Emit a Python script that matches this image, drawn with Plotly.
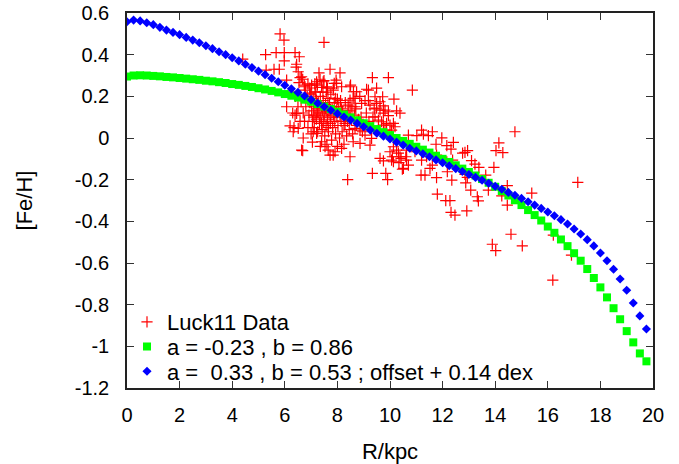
import plotly.graph_objects as go

# ---------------- data ----------------
luck_r = [
    4.40, 5.27, 5.67, 5.82, 5.97, 5.98, 5.98, 6.39, 6.55, 7.49,
    5.29, 5.59, 5.79, 6.43, 6.51, 6.45, 6.58, 6.68, 6.07, 7.72,
    8.10, 7.30, 7.34, 7.49, 7.24, 7.40, 7.62, 7.84, 8.50, 8.61,
    9.18, 9.49, 9.33, 9.94, 7.95, 6.64, 7.02, 7.46, 6.77, 7.15,
    7.59, 7.97, 8.16, 6.96, 6.54, 6.74, 7.21, 7.88, 8.48, 8.73,
    9.11, 9.43, 8.67, 8.92, 9.24, 9.49, 8.41, 8.29, 8.54, 8.67,
    8.86, 9.05, 9.30, 9.24, 8.86, 8.60, 8.48, 8.16, 7.91, 7.65,
    7.53, 7.40, 7.21, 7.08, 6.64, 6.51, 6.45, 6.07, 6.39, 6.20,
    6.32, 6.68, 9.33, 9.84, 9.91, 8.39, 10.15, 9.72, 9.75, 9.18,
    8.67, 8.48, 8.00, 10.85, 9.62, 9.49, 9.62, 9.81, 9.94, 9.75,
    9.94, 10.25, 10.38, 9.43, 9.56, 9.68, 9.75, 9.87, 10.00, 10.13,
    10.19, 10.06, 9.81, 10.70, 11.02, 11.20, 11.27, 11.46, 11.61, 11.97,
    11.75, 12.16, 12.41, 12.32, 12.85, 12.95, 10.13, 10.25, 10.00, 10.95,
    14.14, 14.03, 14.29, 11.39, 11.61, 11.52, 12.18, 13.10, 13.23, 13.38,
    13.95, 13.64, 12.94, 12.88, 11.77, 12.35, 13.07, 13.74, 14.46, 14.25,
    14.46, 15.39, 11.80, 12.12, 12.28, 13.32, 13.36, 12.32, 12.47, 12.92,
    14.60, 13.89, 14.02, 15.03, 16.19, 17.14, 16.21, 16.90, 14.75, 12.76,
    11.20, 10.63, 10.38, 10.63, 10.51, 10.06, 10.13, 11.18, 11.33, 11.77,
    12.16, 12.38, 7.72, 7.84, 9.62, 9.75, 10.09, 10.32, 10.42, 10.34,
    10.60, 10.70, 10.47, 12.85,
    6.62, 6.70, 6.75, 6.80, 6.85, 6.88, 6.92, 6.95, 7.00, 7.02,
    7.05, 7.08, 7.10, 7.12, 7.15, 7.18, 7.20, 7.22, 7.25, 7.27,
    7.30, 7.32, 7.35, 7.37, 7.40, 7.42, 7.44, 7.46, 7.48, 7.50,
    7.52, 7.55, 7.57, 7.60, 7.62, 7.64, 7.66, 7.68, 7.70, 7.73,
    7.75, 7.78, 7.80, 7.82, 7.85, 7.88, 7.90, 7.93, 7.95, 7.98,
    8.02, 8.05, 8.08, 8.10, 8.14, 8.18, 8.20, 8.25, 8.30, 8.35,
    8.40, 8.45, 8.52, 8.58, 8.65, 8.72, 8.80, 6.95, 7.14, 7.58,
    7.75, 7.92, 8.12, 8.30, 8.55, 7.05, 7.35, 7.60, 8.00, 8.25,
    6.70, 6.58, 6.50, 6.40, 6.30, 6.25, 6.35, 7.20, 7.45, 7.85,
    7.65, 7.40, 7.10, 7.55, 7.70, 7.25, 7.98, 8.15, 8.38, 8.48,
    8.70, 8.90, 9.00, 9.10, 9.20, 9.05, 8.95, 9.35, 9.28, 9.40,
    8.85, 8.60, 7.00, 6.88, 6.78,
]
luck_feh = [
    0.379, 0.400, 0.410, 0.500, 0.470, 0.410, 0.370, 0.410, 0.390, 0.459,
    0.326, 0.330, 0.330, 0.340, 0.318, 0.354, 0.290, 0.282, 0.278, 0.330,
    0.313, 0.313, 0.282, 0.275, 0.254, 0.243, 0.239, 0.230, 0.254, 0.222,
    0.230, 0.239, 0.290, 0.290, 0.278, 0.294, 0.254, 0.270, 0.246, 0.222,
    0.246, 0.262, 0.246, 0.215, 0.266, 0.254, 0.270, 0.262, 0.246, 0.222,
    0.234, 0.198, 0.190, 0.166, 0.158, 0.166, 0.158, 0.070, 0.086, 0.046,
    0.038, 0.014, -0.002, -0.034, -0.026, -0.018, -0.090, -0.050, -0.066, -0.058,
    -0.042, -0.018, 0.022, 0.030, -0.058, 0.046, 0.118, 0.150, 0.110, 0.058,
    0.030, -0.061, -0.170, -0.170, -0.200, -0.200, 0.187, 0.198, 0.154, 0.179,
    0.150, 0.182, 0.187, 0.230, 0.174, 0.143, 0.134, 0.134, 0.126, 0.119,
    0.107, 0.130, 0.119, 0.102, 0.086, 0.078, 0.062, 0.070, 0.062, 0.070,
    0.054, 0.038, 0.038, 0.014, 0.011, 0.038, 0.018, 0.011, 0.030, 0.001,
    -0.030, -0.037, -0.021, -0.053, -0.069, -0.061, -0.042, -0.058, -0.066, -0.066,
    -0.023, -0.061, -0.070, -0.090, -0.130, -0.146, -0.162, -0.109, -0.125, -0.141,
    -0.141, -0.178, -0.189, -0.215, -0.190, -0.202, -0.250, -0.250, -0.229, -0.278,
    -0.322, -0.265, -0.269, -0.301, -0.301, -0.282, -0.302, -0.357, -0.370, -0.350,
    -0.462, -0.510, -0.541, -0.518, -0.682, -0.213, -0.466, -0.562, 0.030, -0.073,
    -0.106, -0.058, -0.090, -0.106, -0.146, -0.106, -0.114, -0.178, -0.178, -0.082,
    -0.114, -0.106, -0.082, -0.082, -0.098, -0.110, -0.090, -0.073, -0.098, -0.118,
    -0.090, -0.130, -0.150, -0.175,
    0.18, 0.12, 0.08, 0.15, 0.20, 0.05, 0.11, 0.17, 0.02, 0.13,
    0.08, 0.19, 0.15, 0.05, 0.11, 0.22, 0.09, 0.14, 0.03, 0.17,
    0.12, 0.07, 0.20, 0.10, 0.15, 0.04, 0.13, 0.18, 0.08, 0.11,
    0.01, 0.16, 0.06, 0.13, 0.09, 0.19, 0.03, 0.12, 0.15, 0.07,
    0.10, -0.01, 0.14, 0.05, 0.11, 0.17, 0.08, 0.02, 0.13, 0.10,
    0.06, 0.15, 0.00, 0.11, 0.08, 0.03, 0.13, 0.06, 0.10, 0.01,
    0.12, 0.04, 0.09, 0.02, 0.11, 0.06, 0.09, 0.24, 0.26, 0.22,
    0.21, 0.19, 0.18, 0.17, 0.15, -0.02, -0.04, -0.03, -0.04, -0.03,
    0.00, 0.08, 0.15, 0.20, 0.12, 0.22, 0.05, 0.18, 0.22, 0.24,
    0.05, 0.07, 0.10, 0.14, 0.17, 0.12, 0.15, 0.14, 0.08, 0.13,
    0.14, 0.10, 0.06, 0.12, 0.08, 0.18, 0.03, 0.10, 0.04, 0.14,
    0.20, 0.19, 0.21, 0.26, 0.23,
]

model_r = [
    0.00, 0.25, 0.50, 0.75, 1.00, 1.25, 1.50, 1.75, 2.00, 2.25,
    2.50, 2.75, 3.00, 3.25, 3.50, 3.75, 4.00, 4.25, 4.50, 4.75,
    5.00, 5.25, 5.50, 5.75, 6.00, 6.25, 6.50, 6.75, 7.00, 7.25,
    7.50, 7.75, 8.00, 8.25, 8.50, 8.75, 9.00, 9.25, 9.50, 9.75,
    10.00, 10.25, 10.50, 10.75, 11.00, 11.25, 11.50, 11.75, 12.00, 12.25,
    12.50, 12.75, 13.00, 13.25, 13.50, 13.75, 14.00, 14.25, 14.50, 14.75,
    15.00, 15.25, 15.50, 15.75, 16.00, 16.25, 16.50, 16.75, 17.00, 17.25,
    17.50, 17.75, 18.00, 18.25, 18.50, 18.75, 19.00, 19.25, 19.50, 19.75,
]
model1_feh = [
    0.295, 0.300, 0.301, 0.300, 0.298, 0.296, 0.293, 0.291, 0.288, 0.285,
    0.282, 0.279, 0.275, 0.272, 0.268, 0.264, 0.259, 0.255, 0.250, 0.245,
    0.239, 0.233, 0.226, 0.219, 0.211, 0.203, 0.194, 0.184, 0.174, 0.163,
    0.151, 0.139, 0.126, 0.113, 0.099, 0.085, 0.071, 0.057, 0.043, 0.028,
    0.014, 0.000, -0.014, -0.028, -0.042, -0.056, -0.070, -0.085, -0.100, -0.115,
    -0.131, -0.147, -0.163, -0.180, -0.197, -0.215, -0.234, -0.255, -0.276, -0.299,
    -0.322, -0.346, -0.370, -0.396, -0.425, -0.455, -0.487, -0.519, -0.553, -0.589,
    -0.629, -0.672, -0.717, -0.765, -0.817, -0.870, -0.927, -0.981, -1.034, -1.072,
]
model2_feh = [
    0.558, 0.566, 0.562, 0.553, 0.544, 0.531, 0.518, 0.507, 0.496, 0.483,
    0.470, 0.457, 0.443, 0.429, 0.414, 0.400, 0.385, 0.370, 0.354, 0.338,
    0.321, 0.304, 0.287, 0.270, 0.253, 0.236, 0.219, 0.202, 0.184, 0.167,
    0.150, 0.133, 0.117, 0.101, 0.086, 0.070, 0.054, 0.038, 0.023, 0.009,
    -0.005, -0.020, -0.034, -0.049, -0.062, -0.076, -0.090, -0.105, -0.119, -0.133,
    -0.147, -0.161, -0.175, -0.189, -0.203, -0.217, -0.232, -0.246, -0.261, -0.275,
    -0.290, -0.306, -0.322, -0.338, -0.355, -0.373, -0.392, -0.413, -0.437, -0.461,
    -0.488, -0.518, -0.552, -0.589, -0.630, -0.677, -0.731, -0.792, -0.854, -0.917,
]

series_names = ["Luck11 Data", "a = -0.23 , b = 0.86",
                "a =  0.33 , b = 0.53 ; offset + 0.14 dex"]

x_ticks = [0, 2, 4, 6, 8, 10, 12, 14, 16, 18, 20]
x_ticktext = ["0", "2", "4", "6", "8", "10", "12", "14", "16", "18", "20"]
y_ticks = [0.6, 0.4, 0.2, 0, -0.2, -0.4, -0.6, -0.8, -1.0, -1.2]
y_ticktext = ["0.6", "0.4", "0.2", "0", "-0.2", "-0.4", "-0.6", "-0.8", "-1", "-1.2"]

# ---------------- figure ----------------
FONT = "Liberation Sans, Arial, Helvetica, sans-serif"

fig = go.Figure()
fig.add_trace(go.Scatter(
    x=luck_r, y=luck_feh, mode="markers", name=series_names[0],
    marker=dict(symbol="cross-thin", size=8, color="#ff0000",
                line=dict(width=1.2, color="#ff0000")),
    legend="legend",
))
fig.add_trace(go.Scatter(
    x=model_r, y=model1_feh, mode="markers", name=series_names[1],
    marker=dict(symbol="square", size=8, color="#00ff00", line=dict(width=0)),
    legend="legend2",
))
fig.add_trace(go.Scatter(
    x=model_r, y=model2_feh, mode="markers", name=series_names[2],
    marker=dict(symbol="diamond", size=7, color="#0000ff", line=dict(width=0)),
    legend="legend3",
))

axis_common = dict(
    showline=True, linecolor="#222222", linewidth=1.5, mirror="ticks",
    ticks="inside", ticklen=7, tickwidth=1.2, tickcolor="#333333",
    showgrid=False, zeroline=False,
    tickfont=dict(family=FONT, size=20, color="#000000"),
)

leg_common = dict(
    xanchor="left", yanchor="middle", x=0.0,
    bgcolor="rgba(0,0,0,0)", borderwidth=0,
    font=dict(family=FONT, size=22, color="#000000"),
    itemwidth=30,
)

fig.update_layout(
    width=679, height=464,
    margin=dict(l=127, r=26, t=13, b=76, pad=0, autoexpand=False),
    paper_bgcolor="white", plot_bgcolor="white",
    font=dict(family=FONT, color="#000000"),
    xaxis=dict(range=[0, 20], tickvals=x_ticks, ticktext=x_ticktext,
               ticklabelstandoff=8, automargin=True,
               title=dict(text="R/kpc", font=dict(family=FONT, size=22), standoff=26),
               **axis_common),
    yaxis=dict(range=[-1.2, 0.6], tickvals=y_ticks, ticktext=y_ticktext,
               ticklabelstandoff=12, automargin=True,
               title=dict(text="[Fe/H]", font=dict(family=FONT, size=22), standoff=36),
               **axis_common),
    legend=dict(y=0.176, **leg_common),
    legend2=dict(y=0.110, **leg_common),
    legend3=dict(y=0.044, **leg_common),
    showlegend=True,
)

fig.write_html("out.html")
